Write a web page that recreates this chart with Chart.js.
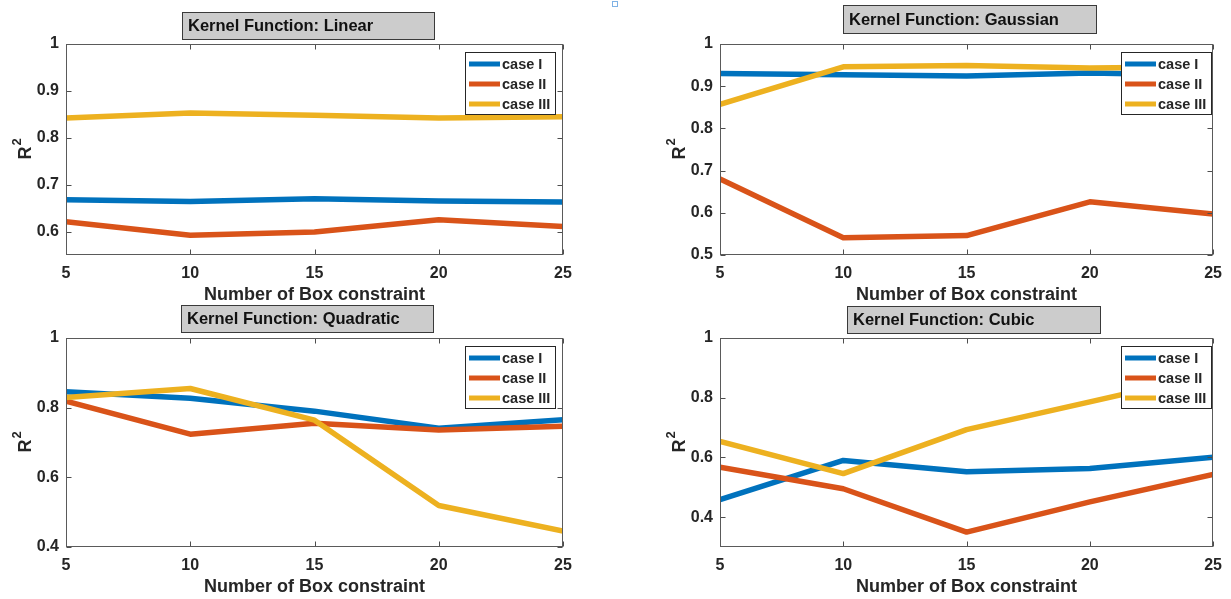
<!DOCTYPE html>
<html>
<head>
<meta charset="utf-8">
<script src="https://cdn.jsdelivr.net/npm/chart.js@4.4.0/dist/chart.umd.min.js"></script>
<style>
  html, body { margin: 0; padding: 0; background: #fff; }
  #wrap { position: relative; width: 1231px; height: 599px; overflow: hidden; }
  #wrap canvas { position: absolute; }
  #marker { position: absolute; left: 612px; top: 1px; width: 4px; height: 4px; border: 1px solid #7fb2e5; }
</style>
</head>
<body>
<div id="wrap">
  <canvas id="pLinear" width="615" height="300" style="left:0;top:0;width:615px;height:300px"></canvas>
  <canvas id="pGaussian" width="616" height="300" style="left:615px;top:0;width:616px;height:300px"></canvas>
  <canvas id="pQuadratic" width="615" height="299" style="left:0;top:300px;width:615px;height:299px"></canvas>
  <canvas id="pCubic" width="616" height="299" style="left:615px;top:300px;width:616px;height:299px"></canvas>
  <div id="marker"></div>
</div>
<script>
// Box constraint values on the x axis
const xValues = [5, 10, 15, 20, 25];
const xTicks = [5, 10, 15, 20, 25];
const seriesLabels = ['case I', 'case II', 'case III'];
const xAxisTitle = 'Number of Box constraint';

// R^2 per kernel function and case
const linearCaseI   = [0.668, 0.664, 0.670, 0.665, 0.663];
const linearCaseII  = [0.621, 0.592, 0.599, 0.625, 0.611];
const linearCaseIII = [0.842, 0.853, 0.848, 0.842, 0.845];

const gaussianCaseI   = [0.930, 0.927, 0.924, 0.931, 0.926];
const gaussianCaseII  = [0.680, 0.541, 0.546, 0.626, 0.597];
const gaussianCaseIII = [0.857, 0.946, 0.949, 0.943, 0.946];

const quadraticCaseI   = [0.846, 0.827, 0.790, 0.741, 0.765];
const quadraticCaseII  = [0.819, 0.724, 0.755, 0.736, 0.747];
const quadraticCaseIII = [0.829, 0.855, 0.764, 0.519, 0.446];

const cubicCaseI   = [0.459, 0.590, 0.552, 0.563, 0.601];
const cubicCaseII  = [0.567, 0.495, 0.350, 0.451, 0.543];
const cubicCaseIII = [0.654, 0.546, 0.693, 0.786, 0.880];

// y tick labels per panel
const yTicksLinear    = [0.6, 0.7, 0.8, 0.9, 1];
const yTicksGaussian  = [0.5, 0.6, 0.7, 0.8, 0.9, 1];
const yTicksQuadratic = [0.4, 0.6, 0.8, 1];
const yTicksCubic     = [0.4, 0.6, 0.8, 1];

const seriesColors = ['#0072BD', '#D95319', '#EDB120'];
const FONT = '"Liberation Sans", Arial, sans-serif';
const TEXT = '#262626';

// Axes box with inner ticks, boxed legend, title box and axis labels
const matlabDecor = {
  id: 'matlabDecor',
  afterDatasetsDraw(chart, args, o) {
    const ctx = chart.ctx;
    const a = chart.chartArea;
    const xs = chart.scales.x, ys = chart.scales.y;
    const L = Math.round(a.left) + 0.5, R = Math.round(a.right) - 0.5;
    const T = Math.round(a.top) + 0.5, B = Math.round(a.bottom) - 0.5;
    ctx.save();

    // inner tick marks
    ctx.strokeStyle = '#4d4d4d';
    ctx.lineWidth = 1;
    ctx.beginPath();
    xs.ticks.forEach(t => {
      const px = Math.round(xs.getPixelForValue(t.value)) + 0.5;
      ctx.moveTo(px, B); ctx.lineTo(px, B - 5);
      ctx.moveTo(px, T); ctx.lineTo(px, T + 5);
    });
    ys.ticks.forEach(t => {
      const py = Math.round(ys.getPixelForValue(t.value)) + 0.5;
      ctx.moveTo(L, py); ctx.lineTo(L + 5, py);
      ctx.moveTo(R, py); ctx.lineTo(R - 5, py);
    });
    ctx.stroke();
    ctx.strokeStyle = '#5a5a5a';
    ctx.strokeRect(L, T, R - L, B - T);

    // legend
    const lg = o.legendBox;
    ctx.fillStyle = '#fff';
    ctx.fillRect(lg.x, lg.y, lg.w, lg.h);
    ctx.strokeStyle = '#262626';
    ctx.strokeRect(lg.x + 0.5, lg.y + 0.5, lg.w, lg.h);
    ctx.font = 'bold 14.5px ' + FONT;
    ctx.textBaseline = 'middle';
    ctx.textAlign = 'left';
    chart.data.datasets.forEach((ds, i) => {
      const yy = lg.y + 12 + i * 20;
      ctx.strokeStyle = ds.borderColor;
      ctx.lineWidth = 5;
      ctx.beginPath();
      ctx.moveTo(lg.x + 4, yy); ctx.lineTo(lg.x + 35, yy);
      ctx.stroke();
      ctx.fillStyle = TEXT;
      ctx.fillText(ds.label, lg.x + 37, yy + 1);
    });

    // title box
    const tb = o.titleBox;
    ctx.fillStyle = '#cccccc';
    ctx.fillRect(tb.x, tb.y, tb.w, tb.h);
    ctx.lineWidth = 1;
    ctx.strokeStyle = '#3a3a3a';
    ctx.strokeRect(tb.x + 0.5, tb.y + 0.5, tb.w, tb.h);
    ctx.fillStyle = '#111';
    ctx.font = 'bold 16.5px ' + FONT;
    ctx.fillText(o.title, tb.x + 6, tb.y + tb.h / 2 + 1);

    // x axis label
    ctx.fillStyle = TEXT;
    ctx.font = 'bold 18px ' + FONT;
    ctx.textAlign = 'center';
    ctx.fillText(xAxisTitle, (a.left + a.right) / 2, a.bottom + o.xTitleOffset);

    // y axis label R^2
    ctx.translate(a.left - 40, (a.top + a.bottom) / 2);
    ctx.rotate(-Math.PI / 2);
    ctx.font = 'bold 18px ' + FONT;
    const wR = ctx.measureText('R').width;
    ctx.font = 'bold 13px ' + FONT;
    const w2 = ctx.measureText('2').width;
    const x0 = -(wR + w2) / 2;
    ctx.textAlign = 'left';
    ctx.font = 'bold 18px ' + FONT;
    ctx.fillText('R', x0, 0);
    ctx.font = 'bold 13px ' + FONT;
    ctx.fillText('2', x0 + wR + 1, -9);
    ctx.restore();
  }
};

function makePanel(id, p) {
  const canvas = document.getElementById(id);
  const W = canvas.width, H = canvas.height;
  const datasets = p.series.map((vals, i) => ({
    label: seriesLabels[i],
    data: xValues.map((x, j) => ({ x: x, y: vals[j] })),
    borderColor: seriesColors[i],
    backgroundColor: seriesColors[i],
    borderWidth: 5.5,
    pointRadius: 0,
    tension: 0,
    clip: 0,
    borderJoinStyle: 'round',
    order: 2 - i
  }));
  const tickFont = { family: FONT, size: 16, weight: 'bold' };
  return new Chart(canvas, {
    type: 'line',
    data: { datasets: datasets },
    options: {
      responsive: false,
      animation: false,
      events: [],
      layout: { padding: { top: p.area.top, right: W - p.area.right, bottom: 0, left: 0 } },
      scales: {
        x: {
          type: 'linear', min: 5, max: 25,
          afterBuildTicks: s => { s.ticks = xTicks.map(v => ({ value: v })); },
          afterFit: s => { s.height = H - p.area.bottom; },
          grid: { display: false, drawTicks: false },
          border: { display: false },
          ticks: { font: tickFont, color: TEXT, padding: 9, maxRotation: 0, autoSkip: false, callback: v => String(v) }
        },
        y: {
          type: 'linear', min: p.yMin, max: p.yMax,
          afterBuildTicks: s => { s.ticks = p.yTicks.map(v => ({ value: v })); },
          afterFit: s => { s.width = p.area.left; },
          grid: { display: false, drawTicks: false },
          border: { display: false },
          ticks: { font: tickFont, color: TEXT, padding: 7, autoSkip: false, callback: v => String(v) }
        }
      },
      plugins: {
        legend: { display: false },
        tooltip: { enabled: false },
        matlabDecor: {
          title: p.title,
          titleBox: p.titleBox,
          legendBox: p.legendBox,
          xTitleOffset: 40
        }
      }
    },
    plugins: [matlabDecor]
  });
}

makePanel('pLinear', {
  title: 'Kernel Function: Linear',
  series: [linearCaseI, linearCaseII, linearCaseIII],
  yMin: 0.55, yMax: 1, yTicks: yTicksLinear,
  area: { left: 66, right: 563, top: 44, bottom: 255 },
  titleBox: { x: 182, y: 12, w: 252, h: 27 },
  legendBox: { x: 465, y: 52, w: 90, h: 62 }
});
makePanel('pGaussian', {
  title: 'Kernel Function: Gaussian',
  series: [gaussianCaseI, gaussianCaseII, gaussianCaseIII],
  yMin: 0.5, yMax: 1, yTicks: yTicksGaussian,
  area: { left: 105, right: 601, top: 44, bottom: 255 },
  titleBox: { x: 228, y: 5, w: 253, h: 28 },
  legendBox: { x: 506, y: 52, w: 90, h: 62 }
});
makePanel('pQuadratic', {
  title: 'Kernel Function: Quadratic',
  series: [quadraticCaseI, quadraticCaseII, quadraticCaseIII],
  yMin: 0.4, yMax: 1, yTicks: yTicksQuadratic,
  area: { left: 66, right: 563, top: 38, bottom: 247 },
  titleBox: { x: 181, y: 5, w: 252, h: 27 },
  legendBox: { x: 465, y: 46, w: 90, h: 62 }
});
makePanel('pCubic', {
  title: 'Kernel Function: Cubic',
  series: [cubicCaseI, cubicCaseII, cubicCaseIII],
  yMin: 0.3, yMax: 1, yTicks: yTicksCubic,
  area: { left: 105, right: 601, top: 38, bottom: 247 },
  titleBox: { x: 232, y: 6, w: 253, h: 27 },
  legendBox: { x: 506, y: 46, w: 90, h: 62 }
});
</script>
</body>
</html>
